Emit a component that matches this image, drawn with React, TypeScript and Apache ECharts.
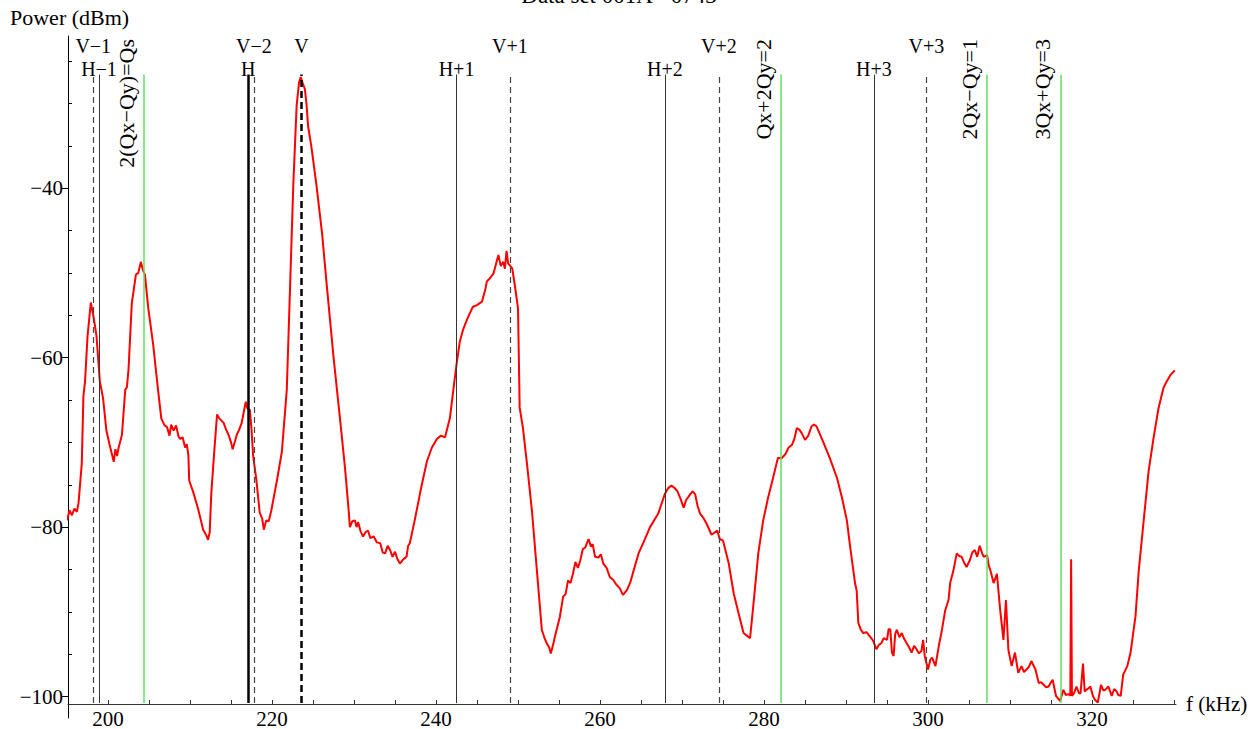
import React, { useEffect, useRef } from 'react';
import * as echarts from 'echarts';

const titleText = 'Data set 001A - 0743';
const yAxisTitle = 'Power (dBm)';
const xAxisTitle = 'f (kHz)';

const freqKHz = [
  195.0, 195.3, 195.6, 195.9, 196.2, 196.4, 196.8, 197.0, 197.2, 197.5, 197.9, 198.2, 198.4, 198.6, 199.0, 199.4, 199.8,
  200.2, 200.5, 200.7, 200.9, 201.1, 201.3, 201.7, 202.1, 202.3, 202.5, 202.9, 203.4, 203.7, 204.0, 204.3, 204.5, 204.9,
  205.5, 206.1, 206.5, 206.9, 207.2, 207.5, 207.7, 208.0, 208.3, 208.6, 208.8, 209.1, 209.4, 209.6, 209.8, 209.9, 210.4,
  211.0, 211.6, 212.0, 212.2, 212.4, 212.6, 213.0, 213.3, 213.6, 214.1, 214.4, 214.7, 215.0, 215.2, 215.5, 215.7, 216.0,
  216.3, 216.8, 217.0, 217.3, 217.5, 217.7, 218.1, 218.5, 218.8, 219.0, 219.3, 219.6, 219.9, 220.6, 221.2, 221.8, 222.2,
  222.6, 223.0, 223.3, 223.5, 223.8, 224.0, 224.2, 224.4, 224.8, 225.4, 226.1, 226.7, 227.5, 228.3, 228.9,
  229.3, 229.5, 229.8, 230.1, 230.3, 230.5, 230.8, 231.1, 231.4, 231.7, 232.0, 232.4, 232.8, 233.2, 233.5, 233.8, 234.1,
  234.4, 234.7, 235.0, 235.3, 235.6, 236.0, 236.4, 236.6, 236.8, 237.4, 238.2, 238.9, 239.5, 240.1, 240.6, 241.1, 241.7,
  242.1, 242.5, 242.9, 243.3, 243.7, 244.1, 244.5, 245.0, 245.6, 246.0, 246.2, 246.6, 247.0, 247.3, 247.6, 247.9, 248.2,
  248.4, 248.6, 248.8, 249.0, 249.3, 249.6, 250.0, 250.2, 250.6, 251.1, 251.7, 252.3, 252.9, 253.2, 253.5, 253.8, 254.0,
  254.3, 254.5, 255.1, 255.5, 255.8, 256.1, 256.4, 256.7, 257.0, 257.3, 257.6, 257.9, 258.2, 258.6, 258.9, 259.1, 259.4,
  259.8, 260.1, 260.4, 260.8, 261.2,
  261.6, 262.0, 262.4, 262.8, 263.3, 263.7, 264.1, 264.7, 265.3, 266.1, 267.1, 267.9, 268.3, 268.7, 269.0, 269.4, 269.8,
  270.2, 270.5, 270.8, 271.0, 271.3, 271.6, 271.9, 272.2, 272.6, 273.0, 273.6, 274.3, 274.6, 275.0, 275.7, 276.3, 276.9,
  277.5, 277.9, 278.3, 278.8, 279.3, 279.9, 280.5, 281.1, 281.4, 281.7, 282.1, 282.6, 283.0, 283.4, 283.7, 284.0, 284.3,
  284.6, 285.0, 285.4, 285.8, 286.1, 286.4, 286.8, 287.2, 288.0, 288.9, 289.5, 290.1, 290.5, 291.1, 291.3, 291.5, 291.8,
  292.1, 292.5, 292.9, 293.3, 293.7, 294.0, 294.3, 294.6, 295.0, 295.2,
  295.4, 295.6, 295.8, 296.0, 296.2, 296.5, 296.8, 297.1, 297.4, 297.7, 298.0, 298.3, 298.6, 298.9, 299.2, 299.4, 299.6,
  300.0, 300.3, 300.5, 300.9, 301.3, 301.7, 302.1, 302.5, 302.7, 303.1, 303.5, 303.8, 304.1, 304.4, 304.7, 305.1, 305.4,
  305.7, 306.0, 306.3, 306.6, 306.8, 307.2, 307.4, 307.6, 308.0, 308.4, 308.8, 309.2, 309.5, 309.8, 310.2, 310.6, 311.0,
  311.4, 311.7, 312.0, 312.3, 312.6, 313.1, 313.5, 313.8, 314.1, 314.4, 314.7, 315.0, 315.2, 315.6, 316.1, 316.5, 316.8,
  317.1, 317.35, 317.45, 317.55, 317.8, 318.1, 318.4, 318.6, 318.9, 319.1, 319.3, 319.6, 319.8, 320.1, 320.3, 320.7,
  321.1, 321.4, 321.6, 322.0, 322.4, 322.7, 323.0, 323.2, 323.5, 323.8, 324.3, 324.7, 325.3, 325.7, 326.3, 326.9, 327.5,
  328.1, 328.7, 329.0, 329.3, 329.6, 329.9, 330.1,
];

const powerDbm = [
  -79.2, -78.0, -78.6, -77.8, -78.2, -77.2, -72.5, -64.5, -62.8, -57.5, -53.5, -55.0, -56.2, -57.5, -62.8, -64.8, -68.6,
  -70.3, -71.5, -72.3, -70.8, -71.6, -70.6, -69.1, -63.8, -63.5, -61.4, -53.6, -50.2, -50.0, -48.7, -49.8, -50.2, -54.1,
  -58.4, -63.8, -67.2, -68.0, -68.2, -69.2, -67.9, -68.6, -68.0, -69.3, -69.6, -69.4, -70.6, -70.2, -71.5, -74.5, -75.9,
  -77.9, -80.3, -81.0, -81.5, -80.6, -75.9, -70.5, -66.7, -67.2, -67.7, -68.5, -69.1, -70.0, -70.8, -69.8, -69.1, -68.5,
  -67.7, -65.2, -66.0, -66.2, -68.5, -71.6, -74.5, -78.3, -79.0, -80.3, -79.2, -79.3, -78.1, -74.5, -71.1, -63.8, -51.7,
  -39.5, -30.3, -27.5, -26.9, -27.8, -28.3, -30.0, -32.7, -35.1, -39.5, -45.3, -51.7, -59.9, -67.3, -73.0,
  -77.5, -80.0, -79.3, -79.2, -80.0, -79.4, -80.5, -81.1, -80.6, -80.4, -81.3, -81.1, -81.8, -81.9, -83.0, -83.1, -82.2,
  -82.7, -83.5, -82.9, -83.8, -84.3, -83.8, -83.5, -82.2, -81.9, -79.2, -75.3, -72.2, -70.6, -69.6, -69.2, -69.4, -67.1,
  -63.9, -60.8, -58.1, -56.7, -55.7, -54.8, -54.0, -53.8, -53.4, -52.0, -51.0, -50.6, -50.1, -49.0, -47.9, -49.2, -48.7,
  -49.5, -47.4, -48.9, -49.1, -49.5, -51.4, -54.2, -65.9, -68.3, -72.6, -78.1, -85.1, -92.1, -93.0, -93.7, -94.2, -94.9,
  -93.8, -92.9, -90.6, -88.2, -87.9, -86.3, -86.6, -85.5, -84.1, -84.8, -83.9, -82.6, -82.4, -81.4, -82.3, -82.0, -83.5,
  -83.6, -83.2, -84.3, -84.8, -85.9,
  -86.2, -86.8, -87.2, -88.0, -87.4, -86.5, -85.1, -83.1, -81.8, -80.0, -78.4, -76.1, -75.4, -75.1, -75.3, -75.7, -76.6,
  -77.7, -76.8, -76.4, -76.1, -75.8, -76.1, -77.5, -78.4, -78.9, -79.6, -80.9, -80.4, -81.4, -81.6, -84.3, -87.8, -90.2,
  -92.5, -92.8, -93.1, -88.2, -83.1, -79.2, -76.5, -74.2, -73.0, -71.8, -71.9, -71.4, -70.6, -70.3, -69.6, -68.3, -68.5,
  -68.9, -69.7, -69.2, -68.1, -67.9, -68.1, -69.0, -69.9, -71.8, -74.2, -76.5, -79.2, -82.3, -86.6, -87.5, -91.3, -92.1,
  -92.5, -92.4, -92.9, -93.4, -94.4, -93.9, -93.7, -93.1, -93.3, -92.0,
  -92.1, -94.8, -95.2, -92.6, -92.1, -93.0, -92.5, -93.2, -93.7, -94.2, -94.8, -94.0, -94.4, -94.9, -94.6, -93.3, -95.2,
  -96.8, -95.6, -95.4, -96.4, -94.1, -92.1, -89.8, -88.6, -86.6, -85.1, -83.1, -83.4, -83.5, -84.2, -84.7, -83.9, -83.0,
  -82.7, -83.5, -82.2, -83.1, -83.5, -83.3, -84.5, -85.1, -86.6, -85.5, -89.8, -93.3, -88.6, -94.5, -96.4, -94.8, -97.2,
  -96.4, -97.1, -96.8, -96.5, -95.8, -96.8, -98.4, -98.3, -98.6, -98.9, -98.8, -98.3, -98.0, -99.9, -100.5, -99.2, -99.8,
  -99.7, -99.9, -83.8, -99.9, -99.6, -98.8, -99.6, -99.6, -96.1, -99.4, -99.2, -99.0, -98.8, -99.9, -100.3, -100.7,
  -98.6, -99.3, -99.2, -98.8, -99.9, -99.1, -99.4, -99.8, -99.9, -97.4, -96.4, -94.8, -90.5, -85.1, -79.2, -73.4, -69.5,
  -66.0, -63.6, -63.0, -62.5, -62.0, -61.7, -61.5,
];

const markerLabels = ['V\u22121', 'H\u22121', '2(Qx\u2212Qy)=Qs', 'H', 'V\u22122', 'V', 'H+1', 'V+1', 'H+2', 'V+2', 'Qx+2Qy=2', 'H+3', 'V+3', '2Qx\u2212Qy=1', '3Qx+Qy=3'];
const markerFreqs = [198.2, 198.9, 204.4, 217.1, 217.8, 223.6, 242.5, 249.0, 267.9, 274.5, 282.1, 293.4, 299.8, 307.2, 316.2];
const markerKinds = ['V', 'H', 'R', 'Hmain', 'V', 'Vmain', 'H', 'V', 'H', 'V', 'R', 'H', 'V', 'R', 'R'];
const markerTop = -26.6;
const axisFloor = -100.76;

const xTickLabels = [200, 220, 240, 260, 280, 300, 320];
const xTickMarks = [200, 205, 210, 215, 220, 225, 230, 235, 240, 245, 250, 255, 260, 265, 270, 275, 280, 285, 290, 295, 300, 305, 310, 315, 320, 325, 330];
const yTickLabels = [-100, -80, -60, -40];
const yMinorTicks = [-95, -90, -85, -75, -70, -65, -55, -50, -45, -35, -30, -25];

const X_MIN = 195.12;
const X_MAX = 330.24;
const Y_MIN = -102.52;
const Y_MAX = -22.05;

const FONT = '"Liberation Serif", "Times New Roman", serif';

function lineStyleFor(kind: string) {
  switch (kind) {
    case 'Vmain':
      return { type: [7, 4], color: '#000', width: 2.5 };
    case 'Hmain':
      return { type: 'solid', color: '#000', width: 2.5 };
    case 'V':
      return { type: [6, 4], color: '#444', width: 1.2 };
    case 'H':
      return { type: 'solid', color: '#333', width: 1 };
    default:
      return { type: 'solid', color: '#5fe05f', width: 1.5 };
  }
}

const minusFmt = (v: number) => (v < 0 ? '\u2212' + Math.abs(v) : String(v));

export default function App() {
  const ref = useRef<HTMLDivElement>(null);

  useEffect(() => {
    const chart = echarts.init(ref.current as HTMLDivElement, null, { renderer: 'svg' });
    const curve = freqKHz.map((f, i) => [f, powerDbm[i]]);

    chart.setOption({
      animation: false,
      backgroundColor: '#fff',
      grid: { left: 68, right: 78, top: 36, bottom: 7, containLabel: false },
      xAxis: {
        type: 'value',
        min: X_MIN,
        max: X_MAX,
        position: 'bottom',
        offset: -14,
        name: xAxisTitle,
        nameLocation: 'end',
        nameGap: 10,
        nameTextStyle: { fontFamily: FONT, fontSize: 21, color: '#000', verticalAlign: 'middle', align: 'left' },
        axisLine: { show: true, lineStyle: { color: '#333', width: 1 } },
        axisTick: { show: true, inside: true, length: 4, customValues: xTickMarks, lineStyle: { color: '#333' } },
        axisLabel: { customValues: xTickLabels, fontFamily: FONT, fontSize: 21, color: '#000', margin: 4 },
        splitLine: { show: false },
      },
      yAxis: [
        {
          type: 'value',
          min: Y_MIN,
          max: Y_MAX,
          position: 'left',
          axisLine: { show: true, lineStyle: { color: '#000', width: 1 } },
          axisTick: { show: true, inside: false, length: 6, customValues: yTickLabels, lineStyle: { color: '#000' } },
          axisLabel: { customValues: yTickLabels, formatter: minusFmt, fontFamily: FONT, fontSize: 21, color: '#000', margin: 5 },
          splitLine: { show: false },
        },
        {
          type: 'value',
          min: Y_MIN,
          max: Y_MAX,
          position: 'left',
          axisLine: { show: false },
          axisTick: { show: true, inside: true, length: 4, customValues: yMinorTicks, lineStyle: { color: '#000' } },
          axisLabel: { show: false },
          splitLine: { show: false },
        },
      ],
      series: [
        {
          type: 'line',
          name: 'spectrum',
          data: curve,
          showSymbol: false,
          symbol: 'none',
          lineStyle: { color: '#ff0000', width: 2 },
          z: 2,
        },
        {
          type: 'line',
          name: 'markers',
          data: [],
          z: 3,
          markLine: {
            silent: true,
            symbol: ['none', 'none'],
            label: { show: false },
            data: markerFreqs.map((f, i) => [
              { coord: [f, axisFloor], lineStyle: lineStyleFor(markerKinds[i]) },
              { coord: [f, markerTop] },
            ]),
          },
        },
      ],
    });

    const graphics: any[] = [];
    graphics.push({
      type: 'text',
      x: 619,
      y: 7,
      style: { text: titleText, fontFamily: FONT, fontSize: 23, fill: '#000', align: 'center', verticalAlign: 'bottom' },
    });
    graphics.push({
      type: 'text',
      x: 10,
      y: 17,
      style: { text: yAxisTitle, fontFamily: FONT, fontSize: 22, fill: '#000', align: 'left', verticalAlign: 'middle' },
    });
    markerFreqs.forEach((f, i) => {
      const p = chart.convertToPixel({ xAxisIndex: 0, yAxisIndex: 0 }, [f, markerTop]) as number[];
      const kind = markerKinds[i];
      if (kind === 'R') {
        graphics.push({
          type: 'text',
          x: p[0] - 18,
          y: 39,
          rotation: Math.PI / 2,
          style: { text: markerLabels[i], fontFamily: FONT, fontSize: 22, fill: '#000', align: 'right', verticalAlign: 'middle' },
        });
      } else {
        const isV = kind[0] === 'V';
        graphics.push({
          type: 'text',
          x: p[0],
          y: isV ? 46 : 68.5,
          style: { text: markerLabels[i], fontFamily: FONT, fontSize: 20, fill: '#000', align: 'center', verticalAlign: 'middle' },
        });
      }
    });
    chart.setOption({ graphic: graphics });

    return () => chart.dispose();
  }, []);

  return <div ref={ref} style={{ position: 'absolute', left: 0, top: 0, width: 1254, height: 729 }} />;
}
